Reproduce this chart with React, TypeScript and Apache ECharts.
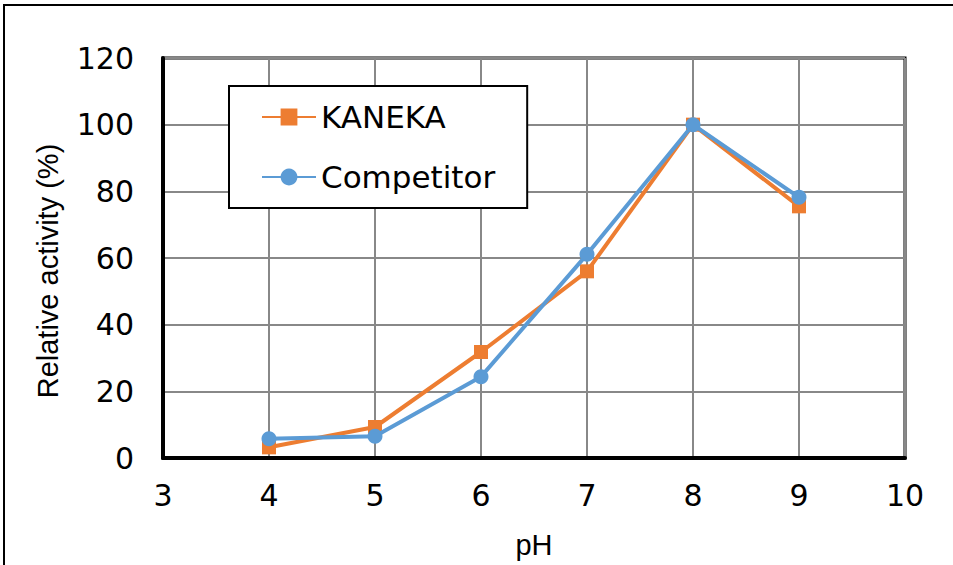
import React, { useEffect, useRef } from "react";
import * as echarts from "echarts";

const phValues = [4, 5, 6, 7, 8, 9];
const kanekaActivity = [3.2, 9.3, 31.8, 56, 100, 75.5];
const competitorActivity = [5.8, 6.5, 24.4, 61.1, 100, 78.2];
const seriesNames = ["KANEKA", "Competitor"];
const xAxisTitle = "pH";
const yAxisTitle = "Relative activity (%)";

export default function App() {
  const ref = useRef<HTMLDivElement>(null);
  useEffect(() => {
    if (!ref.current) return;
    const chart = echarts.init(ref.current, undefined, { renderer: "svg" });
    const tickFont = { fontFamily: "DejaVu Sans", fontSize: 30, color: "#000" };
    chart.setOption({
      animation: false,
      backgroundColor: "#fff",
      grid: {
        left: 163,
        top: 58,
        right: 48,
        bottom: 107,
        show: true,
        borderColor: "#000",
        borderWidth: 3,
        backgroundColor: "transparent",
      },
      legend: {
        orient: "vertical",
        left: 229,
        top: 86,
        padding: [13, 32, 13, 32],
        itemWidth: 54,
        itemHeight: 21,
        itemGap: 24,
        backgroundColor: "#fff",
        borderColor: "#000",
        borderWidth: 2,
        borderRadius: 0,
        textStyle: {
          fontFamily: "DejaVu Sans",
          fontSize: 31,
          color: "#000",
          lineHeight: 36,
        },
        data: seriesNames,
      },
      xAxis: {
        type: "value",
        min: 3,
        max: 10,
        interval: 1,
        axisLine: { show: true, lineStyle: { color: "#000", width: 4 } },
        axisTick: { show: false },
        splitLine: { show: true, lineStyle: { color: "#888", width: 2 } },
        axisLabel: { ...tickFont, margin: 22 },
        name: xAxisTitle,
        nameLocation: "middle",
        nameGap: 72,
        nameTextStyle: { fontFamily: "Liberation Sans", fontSize: 29, color: "#000" },
      },
      yAxis: {
        type: "value",
        min: 0,
        max: 120,
        interval: 20,
        axisLine: { show: true, lineStyle: { color: "#000", width: 4 } },
        axisTick: { show: false },
        splitLine: { show: true, lineStyle: { color: "#888", width: 2 } },
        axisLabel: { ...tickFont, margin: 29 },
      },
      graphic: [
        {
          type: "rect",
          silent: true,
          shape: { x: 4, y: 5, width: 1200, height: 800 },
          style: { fill: "none", stroke: "#000", lineWidth: 2 },
          z: 100,
        },
        {
          type: "text",
          x: 48,
          y: 271,
          rotation: Math.PI / 2,
          style: {
            text: yAxisTitle,
            fontFamily: "Liberation Sans",
            fontSize: 29,
            fill: "#000",
            align: "center",
            verticalAlign: "middle",
          },
        },
      ],
      series: [
        {
          name: seriesNames[0],
          type: "line",
          data: phValues.map((x, i) => [x, kanekaActivity[i]]),
          symbol: "rect",
          symbolSize: 14,
          lineStyle: { color: "#ED7D31", width: 4 },
          itemStyle: { color: "#ED7D31" },
          z: 2,
        },
        {
          name: seriesNames[1],
          type: "line",
          data: phValues.map((x, i) => [x, competitorActivity[i]]),
          symbol: "circle",
          symbolSize: 15,
          lineStyle: { color: "#5B9BD5", width: 4 },
          itemStyle: { color: "#5B9BD5" },
          z: 3,
        },
      ],
    });
    return () => chart.dispose();
  }, []);
  return (
    <div
      ref={ref}
      style={{ position: "fixed", left: 0, top: 0, width: 953, height: 565 }}
    />
  );
}
